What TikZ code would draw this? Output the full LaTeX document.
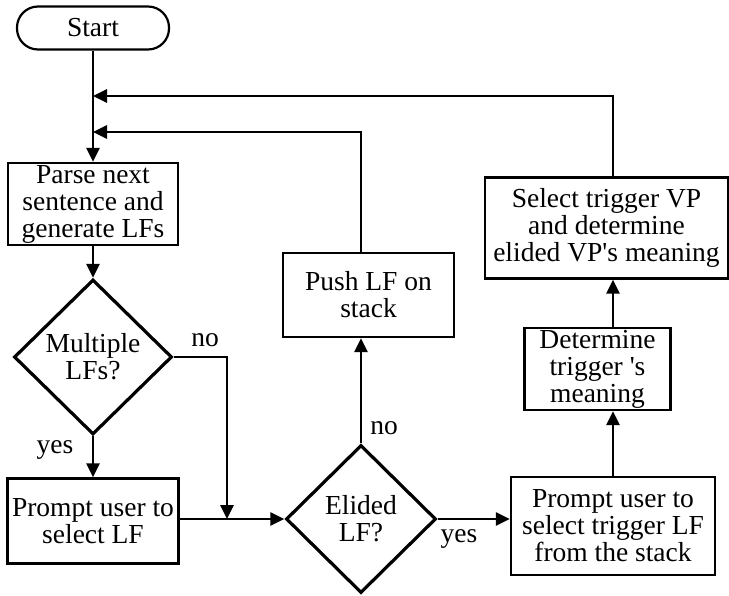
\documentclass[tikz,border=0pt]{standalone}
\usepackage{fontspec}
\setmainfont{Liberation Serif}
\usetikzlibrary{shapes.geometric,arrows.meta}
\begin{document}
\begin{tikzpicture}[x=1pt,y=-1pt,
  every node/.style={font=\fontsize{27.5}{27}\selectfont},
  procbox/.style={draw,line width=2.2pt,rectangle,align=center,inner sep=0pt},
  decbox/.style={draw,line width=3.2pt,diamond,align=center,inner sep=0pt,aspect=1},
  termbox/.style={draw,line width=2.2pt,rectangle,rounded corners=21pt,align=center,inner sep=0pt},
  conn/.style={line width=2.6pt},
  arr/.style={conn,-{Triangle[length=14pt,width=13pt]}},
  lbl/.style={inner sep=0pt}]
\useasboundingbox (0,0) rectangle (729,596);
\node[termbox,minimum width=152pt,minimum height=43pt] (start) at (93,28) {Start};
\node[procbox,minimum width=170pt,minimum height=82pt] (parse) at (93,204) {Parse next\\sentence and\\generate LFs};
\node[decbox,minimum width=158pt,minimum height=155pt] (multi) at (93,357) {Multiple\\LFs?};
\node[procbox,minimum width=171pt,minimum height=85pt] (prompta) at (93,521) {Prompt user to\\select LF};
\node[decbox,minimum width=150pt,minimum height=148pt] (elided) at (361,519) {Elided\\LF?};
\node[procbox,minimum width=171pt,minimum height=84pt] (push) at (368.5,295) {Push LF on\\stack};
\node[procbox,minimum width=204pt,minimum height=98pt] (promptb) at (613,526) {Prompt user to\\select trigger LF\\from the stack};
\node[procbox,minimum width=146pt,minimum height=82pt] (determine) at (597.5,369) {Determine\\trigger \textquotesingle s\\meaning};
\node[procbox,minimum width=243pt,minimum height=101pt] (select) at (606.5,228) {Select trigger VP\\and determine\\elided VP\textquotesingle s meaning};
\coordinate (ja) at (93,96);
\coordinate (jb) at (93,132);
\coordinate (jc) at (227,519);
\node[lbl] (nolab1) at (205,340) {no};
\node[lbl] (yeslab1) at (55,450) {yes};
\node[lbl] (nolab2) at (384,428) {no};
\node[lbl] (yeslab2) at (459,539) {yes};
\draw[arr] (start.south) -- (parse.north);
\draw[arr] (select.north -| promptb.north) |- (ja);
\draw[arr] (push.north -| elided.north) |- (jb);
\draw[arr] (parse.south) -- (multi.north);
\draw[arr] (multi.south) -- (prompta.north);
\draw[arr] (multi.east) -| (jc);
\draw[arr] (prompta.east |- elided.west) -- (elided.west);
\draw[arr] (elided.north) -- (elided.north |- push.south);
\draw[arr] (elided.east) -- (elided.east -| promptb.west);
\draw[arr] (promptb.north) -- (promptb.north |- determine.south);
\draw[arr] (determine.north -| promptb.north) -- (promptb.north |- select.south);
\end{tikzpicture}
\end{document}
